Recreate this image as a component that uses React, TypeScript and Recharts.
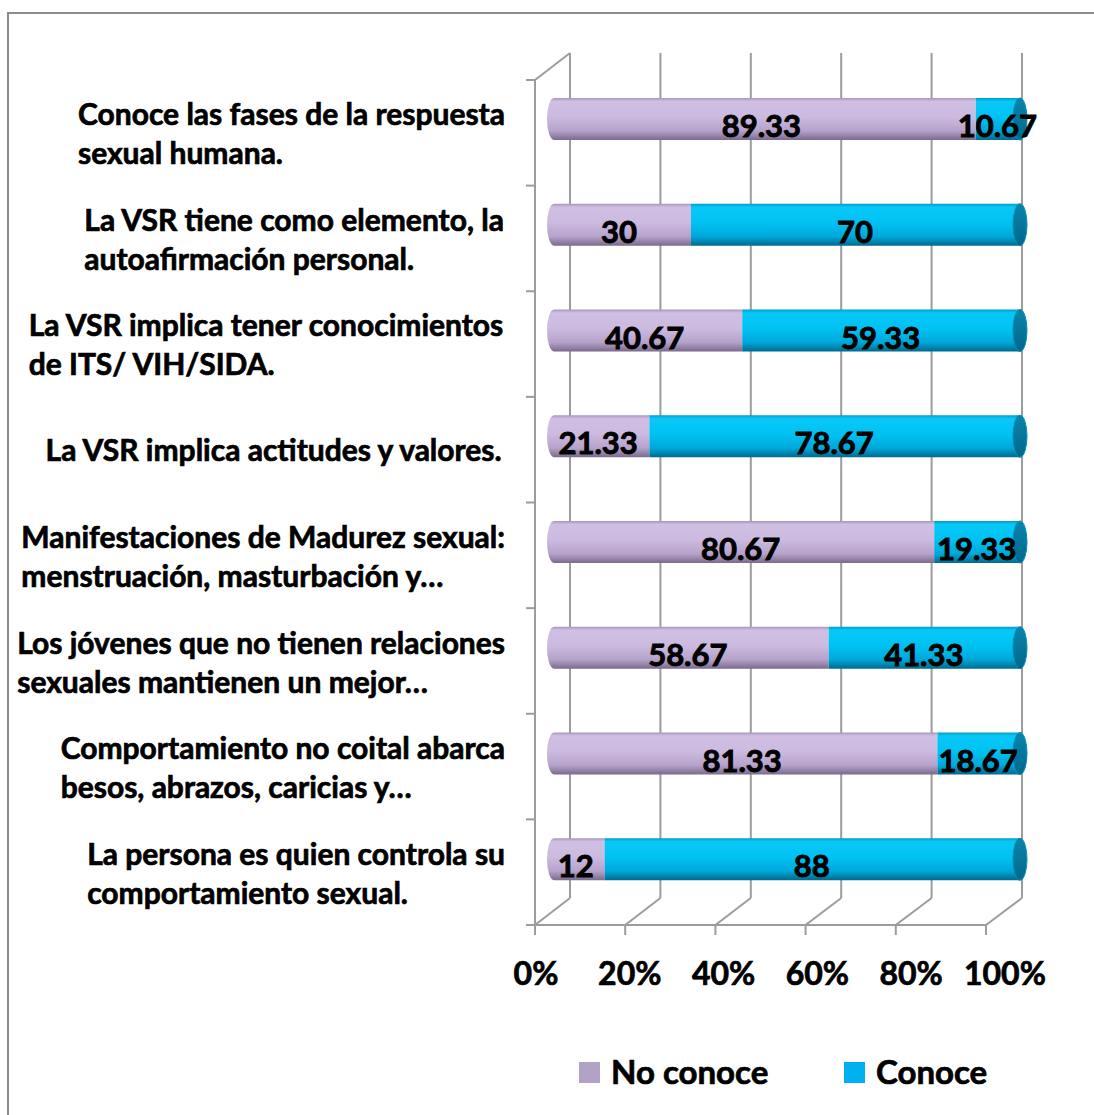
import React from 'react';
import { BarChart, Bar, XAxis, YAxis, LabelList } from 'recharts';

const categories = [
  'Conoce las fases de la respuesta\nsexual humana.',
  'La VSR tiene como elemento, la\nautoafirmación personal.',
  'La VSR implica tener conocimientos\nde ITS/ VIH/SIDA.',
  'La VSR implica actitudes y valores.',
  'Manifestaciones de Madurez sexual:\nmenstruación, masturbación y…',
  'Los jóvenes que no tienen relaciones\nsexuales mantienen un mejor…',
  'Comportamiento no coital abarca\nbesos, abrazos, caricias y…',
  'La persona es quien controla su\ncomportamiento sexual.',
];
const noConoce = [89.33, 30, 40.67, 21.33, 80.67, 58.67, 81.33, 12];
const conoce = [10.67, 70, 59.33, 78.67, 19.33, 41.33, 18.67, 88];
const xTicks = [0, 20, 40, 60, 80, 100];
const seriesNames = ['No conoce', 'Conoce'];
const legendColors = ['#B3A2C7', '#00B0F0'];

const data = categories.map((name, i) => ({ name, noConoce: noConoce[i], conoce: conoce[i] }));

const W = 1094;
const H = 1115;
const FONT = "Lato, 'Open Sans', 'DejaVu Sans', sans-serif";
const CAT_FS = 30;
const VAL_FS = 31;
const TICK_FS = 32;
const LEG_FS = 33;
const PLOT_LEFT = 547;
const LABEL_RIGHT = 505;
const CAP = 7;
const GRID = '#9c9c9c';
const THICK = 0.7;

let measureCtx: CanvasRenderingContext2D | null = null;
function measure(text: string, font: string): number {
  if (!measureCtx) measureCtx = document.createElement('canvas').getContext('2d');
  if (!measureCtx) return text.length * 14;
  measureCtx.font = font;
  return measureCtx.measureText(text).width;
}

const CategoryTick = (props: any) => {
  const { y, payload } = props;
  const lines = String(payload.value).split('\n');
  const font = `bold ${CAT_FS}px Lato`;
  const maxW = Math.max(...lines.map((l) => measure(l, font)));
  const x0 = LABEL_RIGHT - maxW;
  const first = lines.length === 1 ? y + 25 : y + 6;
  return (
    <text fontFamily={FONT} fontWeight="bold" fontSize={CAT_FS} fill="#000" stroke="#000" strokeWidth={THICK}>
      {lines.map((l, i) => (
        <tspan key={i} x={x0} y={first + i * 39}>
          {l}
        </tspan>
      ))}
    </text>
  );
};

const PctTick = (props: any) => {
  const { x, payload } = props;
  const cx = 536 + (x - PLOT_LEFT) * 0.977;
  return (
    <text x={cx} y={985} textAnchor="middle" fontFamily={FONT} fontWeight="bold" fontSize={TICK_FS} fill="#000" stroke="#000" strokeWidth={THICK}>
      {payload.value}%
    </text>
  );
};

const PurpleShape = (props: any) => {
  const { x, y, width, height } = props;
  if (!width || width <= 0) return null;
  const r = Math.min(CAP, width / 2);
  const d = `M${x + r},${y} L${x + width},${y} L${x + width},${y + height} L${x + r},${y + height} A${r},${height / 2} 0 0 1 ${x + r},${y} Z`;
  return <path d={d} fill="url(#gPurple)" />;
};

const BlueShape = (props: any) => {
  const { x, y, width, height } = props;
  if (!width || width <= 0) return null;
  const cx = x + width - CAP;
  return (
    <g>
      <rect x={x} y={y} width={Math.max(0, width - CAP)} height={height} fill="url(#gBlue)" />
      <ellipse cx={cx} cy={y + height / 2} rx={CAP} ry={height / 2} fill="url(#gCap)" stroke="#0090BC" strokeWidth={1} />
    </g>
  );
};

const makeLabel = (shift: number) => (props: any) => {
  const { x, y, width, height, value } = props;
  return (
    <text
      x={x + width / 2 + shift}
      y={y + height / 2 + 18}
      textAnchor="middle"
      fontFamily={FONT}
      fontWeight="bold"
      fontSize={VAL_FS}
      fill="#000"
      stroke="#000"
      strokeWidth={0.9}
    >
      {value}
    </text>
  );
};

const Walls = () => {
  const backTop = 53;
  const backBottom = 898;
  const frontTop = 80;
  const frontBottom = 925;
  const backX = (v: number) => 570 + v * 4.52;
  const frontX = (v: number) => 535 + v * 4.51;
  const rows = categories.length;
  const tickYs = Array.from({ length: rows + 1 }, (_, k) => frontTop + (k * (frontBottom - frontTop)) / rows);
  return (
    <svg width={W} height={H} style={{ position: 'absolute', left: 0, top: 0 }}>
      <rect x={8} y={13} width={1100} height={1120} fill="#fff" stroke="#8c8c8c" strokeWidth={2} />
      {xTicks.map((v) => (
        <g key={v}>
          <line x1={backX(v)} y1={backTop} x2={backX(v)} y2={backBottom} stroke={GRID} strokeWidth={2} />
          <line x1={backX(v)} y1={backBottom} x2={frontX(v)} y2={frontBottom} stroke={GRID} strokeWidth={2} />
          <line x1={frontX(v)} y1={frontBottom} x2={frontX(v)} y2={frontBottom + 10} stroke={GRID} strokeWidth={2} />
        </g>
      ))}
      <line x1={backX(0)} y1={backTop} x2={frontX(0)} y2={frontTop} stroke={GRID} strokeWidth={2} />
      <line x1={frontX(0)} y1={frontTop} x2={frontX(0)} y2={frontBottom} stroke={GRID} strokeWidth={2} />
      <line x1={frontX(0)} y1={frontBottom} x2={frontX(100)} y2={frontBottom} stroke={GRID} strokeWidth={2} />
      {tickYs.map((ty, k) => (
        <line key={k} x1={frontX(0) - 9} y1={ty} x2={frontX(0)} y2={ty} stroke={GRID} strokeWidth={2} />
      ))}
    </svg>
  );
};

const LegendBox = () => (
  <svg width={W} height={H} style={{ position: 'absolute', left: 0, top: 0, pointerEvents: 'none' }}>
    {seriesNames.map((n, i) => {
      const sx = i === 0 ? 579 : 844;
      return (
        <g key={n}>
          <rect x={sx} y={1062} width={21} height={21} fill={legendColors[i]} />
          <text x={sx + 32} y={1084} fontFamily={FONT} fontWeight="bold" fontSize={LEG_FS} fill="#000" stroke="#000" strokeWidth={THICK}>
            {n}
          </text>
        </g>
      );
    })}
  </svg>
);

export default function App() {
  return (
    <div style={{ position: 'absolute', left: 0, top: 0, width: W, height: H, background: '#fff' }}>
      <Walls />
      <div style={{ position: 'absolute', left: 0, top: 0 }}>
        <BarChart
          width={W}
          height={H}
          data={data}
          layout="vertical"
          margin={{ top: 66, right: 67, bottom: 173, left: 0 }}
          barSize={42}
        >
          <defs>
            <linearGradient id="gPurple" x1="0" y1="0" x2="0" y2="1">
              <stop offset="0%" stopColor="#A895BC" />
              <stop offset="8%" stopColor="#D0BFE3" />
              <stop offset="45%" stopColor="#CCBAE0" />
              <stop offset="78%" stopColor="#B6A2CA" />
              <stop offset="100%" stopColor="#7A6A8C" />
            </linearGradient>
            <linearGradient id="gBlue" x1="0" y1="0" x2="0" y2="1">
              <stop offset="0%" stopColor="#009CCC" />
              <stop offset="8%" stopColor="#08C8F8" />
              <stop offset="45%" stopColor="#00C2F2" />
              <stop offset="78%" stopColor="#00A8DA" />
              <stop offset="100%" stopColor="#006A8E" />
            </linearGradient>
            <linearGradient id="gCap" x1="0" y1="0" x2="0" y2="1">
              <stop offset="0%" stopColor="#0A84AC" />
              <stop offset="100%" stopColor="#00688C" />
            </linearGradient>
          </defs>
          <XAxis
            type="number"
            domain={[0, 100]}
            ticks={xTicks}
            interval={0}
            height={30}
            axisLine={false}
            tickLine={false}
            tick={<PctTick />}
          />
          <YAxis
            type="category"
            dataKey="name"
            width={PLOT_LEFT}
            interval={0}
            axisLine={false}
            tickLine={false}
            tick={<CategoryTick />}
          />
          <Bar dataKey="noConoce" name={seriesNames[0]} stackId="a" fill={legendColors[0]} shape={PurpleShape} isAnimationActive={false}>
            <LabelList dataKey="noConoce" content={makeLabel(0)} />
          </Bar>
          <Bar dataKey="conoce" name={seriesNames[1]} stackId="a" fill={legendColors[1]} shape={BlueShape} isAnimationActive={false}>
            <LabelList dataKey="conoce" content={makeLabel(-4)} />
          </Bar>
        </BarChart>
      </div>
      <LegendBox />
    </div>
  );
}
